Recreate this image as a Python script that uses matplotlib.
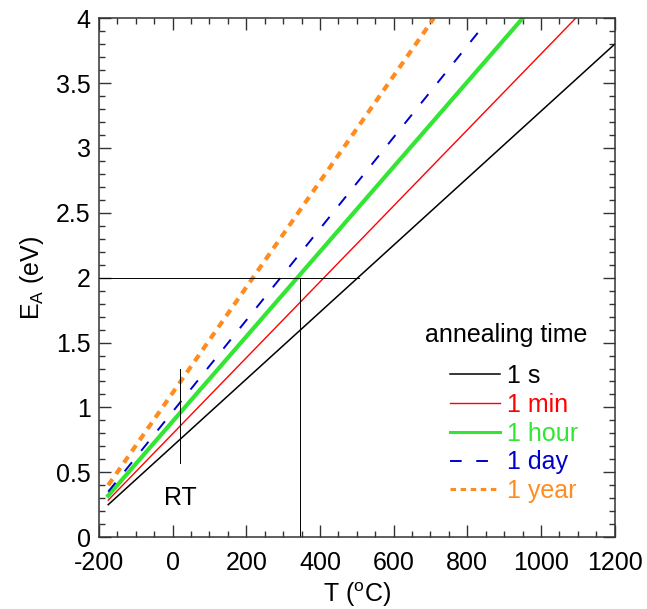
import numpy as np
import matplotlib
matplotlib.use('Agg')
import matplotlib.pyplot as plt
from matplotlib.ticker import MultipleLocator, FormatStrFormatter

plt.rcParams.update({
    'font.family': 'Liberation Sans',
    'font.size': 18,
    'axes.unicode_minus': False,
    'mathtext.fontset': 'custom',
    'mathtext.rm': 'Liberation Sans',
    'mathtext.it': 'Liberation Sans:italic',
})

# annealing time series: straight lines, read as start/end points
labels = ['1 s', '1 min', '1 hour', '1 day', '1 year']
colors = ['black', '#ff0000', '#33e633', '#0000cc', '#ff8c1f']
x_start = [-175, -175, -175, -175, -175]
y_start = [0.25, 0.285, 0.32, 0.35, 0.40]
x_end = [1200, 1094, 950, 829, 709]
y_end = [3.80, 4.00, 4.00, 3.89, 4.00]

# guide lines
h_line_x = [-200, 505]
h_line_y = [2, 2]
v_line_x = [345, 345]
v_line_y = [0, 2]
rt_x = [20, 20]
rt_y = [0.57, 1.30]

fig = plt.figure(figsize=(6.47, 6.09), dpi=100)
ax = fig.add_axes([0.153, 0.118, 0.797, 0.852])

styles = [
    dict(lw=1.1, ls='-'),
    dict(lw=1.0, ls='-'),
    dict(lw=3.0, ls='-'),
    dict(lw=1.4, ls=(0, (6, 7.5))),
    dict(lw=3.0, ls=(0, (1.8, 1.5))),
]
for i in range(len(labels)):
    ax.plot([x_start[i], x_end[i]], [y_start[i], y_end[i]], color=colors[i],
            label=labels[i], **styles[i])

ax.plot(h_line_x, h_line_y, color='black', lw=0.7)
ax.plot(v_line_x, v_line_y, color='black', lw=0.7)
ax.plot(rt_x, rt_y, color='black', lw=0.7)
ax.text(20, 0.30, 'RT', ha='center', va='center', fontsize=18)

ax.set_xlim(-200, 1200)
ax.set_ylim(0, 4)
ax.xaxis.set_major_locator(MultipleLocator(200))
ax.xaxis.set_minor_locator(MultipleLocator(50))
ax.yaxis.set_major_locator(MultipleLocator(0.5))
ax.yaxis.set_minor_locator(MultipleLocator(0.1))
ax.yaxis.set_major_formatter(FormatStrFormatter('%g'))
ax.tick_params(which='both', direction='in', top=True, right=True, color='#333333')
ax.tick_params(which='major', length=8.5, width=1.0, labelsize=18)
ax.tick_params(axis='x', which='major', pad=10)
ax.tick_params(axis='y', which='major', pad=6)
ax.tick_params(which='minor', length=4.5, width=1.0)
for s in ax.spines.values():
    s.set_linewidth(1.1)
    s.set_color('#333333')

ax.set_xlabel(r'T ($^\mathrm{o}$C)', fontsize=18, labelpad=4)
ax.set_ylabel(r'E$_\mathrm{A}$ (eV)', fontsize=18, labelpad=7)

ax.text(0.789, 0.389, 'annealing time', transform=ax.transAxes,
        ha='center', va='center', fontsize=18)
leg = ax.legend(loc='lower right', bbox_to_anchor=(0.964, 0.032), frameon=False,
                labelcolor='linecolor', fontsize=18,
                handlelength=2.0, handletextpad=0.3,
                labelspacing=0.19, borderaxespad=0.3)
for h in leg.get_lines():
    h.set_linewidth(min(h.get_linewidth(), 2.2))

fig.savefig('out.png', dpi=100)
